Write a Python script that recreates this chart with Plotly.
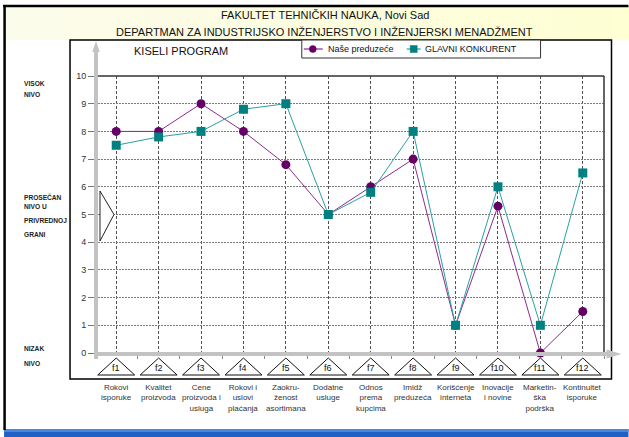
import plotly.graph_objects as go

# ---------------- data ----------------
codes = ["f1", "f2", "f3", "f4", "f5", "f6", "f7", "f8", "f9", "f10", "f11", "f12"]
categories = [
    "Rokovi<br>isporuke", "Kvalitet<br>proizvoda", "Cene<br>proizvoda i<br>usluga",
    "Rokovi i<br>uslovi<br>plaćanja", "Zaokru-<br>ženost<br>asortimana", "Dodatne<br>usluge",
    "Odnos<br>prema<br>kupcima", "Imidž<br>preduzeća", "Korišćenje<br>interneta",
    "Inovacije<br>i novine", "Marketin-<br>ška<br>podrška", "Kontinuitet<br>isporuke",
]
nase_preduzece = [8, 8, 9, 8, 6.8, 5, 6, 7, 1, 5.3, 0, 1.5]
glavni_konkurent = [7.5, 7.8, 8, 8.8, 9, 5, 5.8, 8, 1, 6, 1, 6.5]
series_names = ["Naše preduzeće", "GLAVNI KONKURENT"]
y_ticks = list(range(0, 11))
level_labels = [("VISOK", 83), ("NIVO", 94), ("PROSEČAN", 197), ("NIVO U", 207),
                ("PRIVREDNOJ", 220), ("GRANI", 235), ("NIZAK", 348), ("NIVO", 363)]
title_lines = ["FAKULTET TEHNIČKIH NAUKA, Novi Sad",
               "DEPARTMAN ZA INDUSTRIJSKO INŽENJERSTVO I INŽENJERSKI MENADŽMENT"]
chart_title = "KISELI PROGRAM"

# ---------------- geometry helpers ----------------
W, H = 629, 437
PL, PR, PT, PB = 95, 604.5, 76, 353
def xp(px):
    return (px - PL) / (PR - PL)
def yp(py):
    return (PB - py) / (PB - PT)

xpos = list(range(len(codes)))
FONT = "Liberation Sans, Arial, sans-serif"
PURPLE_LINE, PURPLE_MARK = "#8E2A8E", "#660066"
TEAL_LINE, TEAL_MARK = "#2AA0A0", "#008080"

fig = go.Figure()
fig.add_trace(go.Scatter(
    x=xpos, y=nase_preduzece, name=series_names[0], mode="lines+markers",
    line=dict(color=PURPLE_LINE, width=1),
    marker=dict(symbol="circle", size=9, color=PURPLE_MARK),
    cliponaxis=False, showlegend=False,
))
fig.add_trace(go.Scatter(
    x=xpos, y=glavni_konkurent, name=series_names[1], mode="lines+markers",
    line=dict(color=TEAL_LINE, width=1),
    marker=dict(symbol="square", size=9, color=TEAL_MARK),
    cliponaxis=False, showlegend=False,
))

shapes = []
annotations = []

# header gradient band
n = 40
x0, x1 = 4, 629
for i in range(n):
    t = i / (n - 1)
    r, g, b = 252 + int(3 * t), 252 + int(3 * t), int(236 - 24 * t)
    shapes.append(dict(type="rect", xref="paper", yref="paper",
                       x0=xp(x0 + (x1 - x0) * i / n), x1=xp(x0 + (x1 - x0) * (i + 1) / n + 0.5),
                       y0=yp(40), y1=yp(6), fillcolor=f"rgb({r},{g},{b})",
                       line=dict(width=0), layer="below"))
# bottom blue band
shapes.append(dict(type="rect", xref="paper", yref="paper", x0=xp(4), x1=xp(629),
                   y0=yp(437), y1=yp(429), fillcolor="#2160C4", line=dict(width=0), layer="below"))
shapes.append(dict(type="rect", xref="paper", yref="paper", x0=xp(4), x1=xp(629),
                   y0=yp(432), y1=yp(429), fillcolor="#4A86DA", line=dict(width=0), layer="below"))
# slide borders
shapes.append(dict(type="line", xref="paper", yref="paper", x0=xp(3), x1=xp(629),
                   y0=yp(6), y1=yp(6), line=dict(color="black", width=2.5)))
shapes.append(dict(type="line", xref="paper", yref="paper", x0=xp(4.5), x1=xp(4.5),
                   y0=yp(5), y1=yp(430), line=dict(color="black", width=2.5)))
# chart box
shapes.append(dict(type="rect", xref="paper", yref="paper", x0=xp(70), x1=xp(612),
                   y0=yp(379), y1=yp(40), line=dict(color="black", width=1.5), layer="below"))
# plot area top and right borders
shapes.append(dict(type="line", xref="paper", yref="paper", x0=0, x1=1, y0=1, y1=1,
                   line=dict(color="#333333", width=1.5)))
shapes.append(dict(type="line", xref="paper", yref="paper", x0=1, x1=1, y0=0, y1=1,
                   line=dict(color="#333333", width=1.5)))
# gray axis arrows
gray = "#C3C3C3"
shapes.append(dict(type="line", xref="paper", yref="paper", x0=xp(96), x1=xp(96),
                   y0=yp(359), y1=yp(50), line=dict(color=gray, width=4), layer="above"))
shapes.append(dict(type="path", xref="paper", yref="paper",
                   path=f"M {xp(92.3)},{yp(52)} L {xp(96)},{yp(41)} L {xp(99.7)},{yp(52)} Z",
                   fillcolor=gray, line=dict(width=0), layer="above"))
shapes.append(dict(type="line", xref="paper", yref="paper", x0=xp(94), x1=xp(609),
                   y0=yp(354), y1=yp(354), line=dict(color=gray, width=4), layer="above"))
shapes.append(dict(type="path", xref="paper", yref="paper",
                   path=f"M {xp(607)},{yp(349.5)} L {xp(622)},{yp(354)} L {xp(607)},{yp(358.5)} Z",
                   fillcolor=gray, line=dict(width=0), layer="above"))
# left "average" triangle
shapes.append(dict(type="path", xref="paper", yref="paper",
                   path=f"M {xp(100)},{yp(191)} L {xp(114)},{yp(214.5)} L {xp(100)},{yp(241)} Z",
                   fillcolor="white", line=dict(color="#222222", width=1), layer="above"))

# legend (drawn manually to match the compact box)
shapes.append(dict(type="rect", xref="paper", yref="paper", x0=xp(302), x1=xp(541),
                   y0=yp(58), y1=yp(40), fillcolor="white", line=dict(color="#333333", width=1),
                   layer="above"))
leg_y = 49
for (lx0, lx1, mx, tx), name, lc, mc, sym in [
        ((304, 323, 313, 326), series_names[0], PURPLE_LINE, PURPLE_MARK, "circle"),
        ((407, 421, 414, 423), series_names[1], TEAL_LINE, TEAL_MARK, "rect")]:
    shapes.append(dict(type="line", xref="paper", yref="paper", x0=xp(lx0), x1=xp(lx1),
                       y0=yp(leg_y), y1=yp(leg_y), line=dict(color=lc, width=1.2), layer="above"))
    shapes.append(dict(type=sym, xref="paper", yref="paper", x0=xp(mx - 3.5), x1=xp(mx + 3.5),
                       y0=yp(leg_y + 3.5), y1=yp(leg_y - 3.5), fillcolor=mc,
                       line=dict(color=mc, width=0.5), layer="above"))
    annotations.append(dict(x=xp(tx), y=yp(leg_y + 0.5), xref="paper", yref="paper", text=name,
                            showarrow=False, font=dict(family=FONT, size=9, color="#111111"),
                            xanchor="left", yanchor="middle"))

# category triangles, codes and labels
hw = 18.5 / ((PR - PL) / len(codes))
for i, (c, lab) in enumerate(zip(codes, categories)):
    shapes.append(dict(type="path", xref="x", yref="paper",
                       path=f"M {i - hw},{yp(375)} L {i},{yp(358)} L {i + hw},{yp(375)} Z",
                       fillcolor="white", line=dict(color="#111111", width=1), layer="above"))
    annotations.append(dict(x=i, y=yp(368), xref="x", yref="paper", text=c, showarrow=False,
                            font=dict(family=FONT, size=9, color="#111111"),
                            xanchor="center", yanchor="middle"))
    annotations.append(dict(x=i, y=yp(381), xref="x", yref="paper", text=lab, showarrow=False,
                            font=dict(family=FONT, size=8, color="#333333"),
                            xanchor="center", yanchor="top", align="center"))

# header titles
for txt, py in zip(title_lines, [15, 32]):
    annotations.append(dict(x=xp(325), y=yp(py), xref="paper", yref="paper", text=txt,
                            showarrow=False, font=dict(family=FONT, size=11, color="#111111"),
                            xanchor="center", yanchor="middle"))
annotations.append(dict(x=xp(181.5), y=yp(51), xref="paper", yref="paper", text=chart_title,
                        showarrow=False, font=dict(family=FONT, size=11, color="#111111"),
                        xanchor="center", yanchor="middle"))
# left level labels
for txt, py in level_labels:
    annotations.append(dict(x=xp(22), y=yp(py), xref="paper", yref="paper", text=f"<b>{txt}</b>",
                            showarrow=False, font=dict(family=FONT, size=6.6, color="#222222"),
                            xanchor="left", yanchor="middle"))

fig.update_layout(
    width=W, height=H,
    margin=dict(l=PL, r=W - PR, t=PT, b=H - PB, pad=0),
    paper_bgcolor="white", plot_bgcolor="white",
    font=dict(family=FONT, size=9, color="#333333"),
    showlegend=False,
    shapes=shapes, annotations=annotations,
    xaxis=dict(range=[-0.5, len(codes) - 0.5], tickvals=xpos, showticklabels=False, ticks="",
               showgrid=True, gridcolor="#505050", griddash="3px,2px", gridwidth=1,
               zeroline=False, showline=False, fixedrange=True,
               minor=dict(tickvals=[i - 0.5 for i in range(len(codes) + 1)], ticks="outside",
                          ticklen=5, tickcolor="#888888", showgrid=False)),
    yaxis=dict(range=[0, 10], tickvals=y_ticks, ticks="outside", ticklen=6, tickcolor="#777777",
               tickfont=dict(family=FONT, size=9, color="#333333"),
               showgrid=True, gridcolor="#7a7a7a", griddash="2px,1px", gridwidth=1,
               zeroline=False, showline=False, fixedrange=True),
)

fig.write_html("out.html")
